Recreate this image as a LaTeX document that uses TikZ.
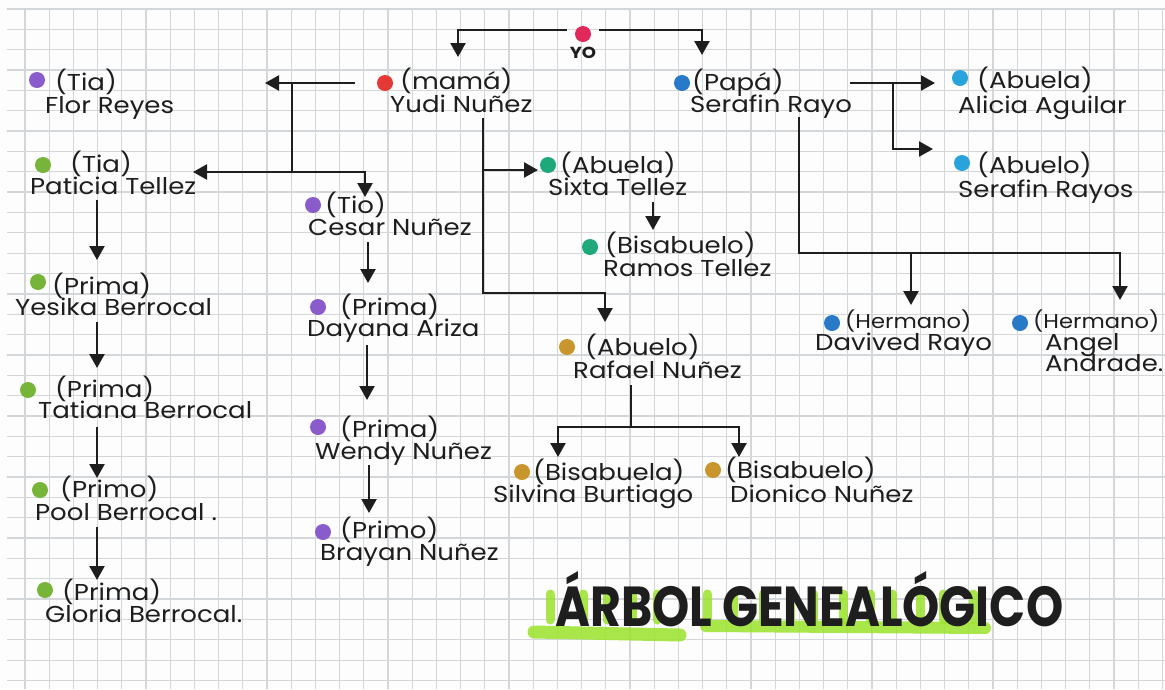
\documentclass[tikz,border=0pt]{standalone}
\usepackage{fontspec}
\setmainfont{Poppins}[FakeStretch=1.13]
\newfontfamily\titlefont{Poppins}
\usetikzlibrary{arrows.meta}
\definecolor{ink}{HTML}{1E1E1E}
\definecolor{paper}{HTML}{FDFDFD}
\definecolor{gridc}{HTML}{D4D7DA}
\definecolor{cYo}{HTML}{E0285A}
\definecolor{cRed}{HTML}{E53935}
\definecolor{cBlue}{HTML}{2979C9}
\definecolor{cCyan}{HTML}{29A3DC}
\definecolor{cPurple}{HTML}{8A5CCB}
\definecolor{cGreen}{HTML}{76B43A}
\definecolor{cTeal}{HTML}{1FA97A}
\definecolor{cGold}{HTML}{C9962E}
\definecolor{hlgreen}{HTML}{9BE22A}
\begin{document}
\begin{tikzpicture}[x=1pt,y=-1pt,
  txt/.style={font=\fontsize{23}{25}\selectfont, text=ink, inner sep=0pt, anchor=base west},
  txtn/.style={font=\fontsize{20}{22}\selectfont, text=ink, inner sep=0pt, anchor=base west},
  pdot/.style={circle, inner sep=0pt, minimum size=16pt, fill=#1},
  arr/.style={draw=ink, line width=2.4pt, -{Triangle[width=15pt,length=14pt]}},
  ln/.style={draw=ink, line width=2.4pt},
  gridline/.style={draw=gridc, line width=1.3pt},
  hl/.style={draw=hlgreen, line cap=round, opacity=0.85}]
\useasboundingbox (0,0) rectangle (1165,689);
\fill[paper] (0,0) rectangle (1165,689);
% grid
\foreach \i in {-1,...,32} \draw[gridline] (7,29.3+20.35*\i) -- (1165,29.3+20.35*\i);
\foreach \k in {0,...,47} \draw[gridline] (25+24.2*\k,9) -- (25+24.2*\k,689);

% ---------- persons ----------
\node[pdot=cYo] (d-yo) at (583,34) {};
\node[font=\fontsize{16}{18}\selectfont\bfseries, text=ink, inner sep=0pt] (yo) at (583,53) {YO};

\node[pdot=cRed] (d-mama) at (385,83) {};
\node[txt] (r-mama) at (400,89) {(mamá)};
\node[txt] (mama) at (390,112) {Yudi Nuñez};

\node[pdot=cBlue] (d-papa) at (682,83) {};
\node[txt] (r-papa) at (692,90) {(Papá)};
\node[txt] (papa) at (690,112) {Serafin Rayo};

\node[pdot=cCyan] (d-alicia) at (960,78) {};
\node[txt] (r-alicia) at (977,88) {(Abuela)};
\node[txt] (alicia) at (958,113) {Alicia Aguilar};

\node[pdot=cCyan] (d-serafin) at (962,163) {};
\node[txt] (r-serafin) at (977,173) {(Abuelo)};
\node[txt] (serafin) at (958,197) {Serafin Rayos};

\node[pdot=cPurple] (d-flor) at (37,80) {};
\node[txt] (r-flor) at (55,90) {(Tia)};
\node[txt] (flor) at (45,113) {Flor Reyes};

\node[pdot=cGreen] (d-paticia) at (43,165) {};
\node[txt] (r-paticia) at (70,172) {(Tia)};
\node[txt] (paticia) at (30,194) {Paticia Tellez};

\node[pdot=cGreen] (d-yesika) at (38,282) {};
\node[txt] (r-yesika) at (52,294) {(Prima)};
\node[txt] (yesika) at (15,315) {Yesika Berrocal};

\node[pdot=cGreen] (d-tatiana) at (28,390) {};
\node[txt] (r-tatiana) at (55,397) {(Prima)};
\node[txt] (tatiana) at (38,418) {Tatiana Berrocal};

\node[pdot=cGreen] (d-pool) at (40,490) {};
\node[txt] (r-pool) at (60,497) {(Primo)};
\node[txt] (pool) at (35,520) {Pool Berrocal .};

\node[pdot=cGreen] (d-gloria) at (45,590) {};
\node[txt] (r-gloria) at (62,600) {(Prima)};
\node[txt] (gloria) at (45,622) {Gloria Berrocal.};

\node[pdot=cPurple] (d-cesar) at (313,205) {};
\node[txt] (r-cesar) at (325,213) {(Tio)};
\node[txt] (cesar) at (308,235) {Cesar Nuñez};

\node[pdot=cPurple] (d-dayana) at (318,307) {};
\node[txt] (r-dayana) at (340,315) {(Prima)};
\node[txt] (dayana) at (307,336) {Dayana Ariza};

\node[pdot=cPurple] (d-wendy) at (318,427) {};
\node[txt] (r-wendy) at (340,437) {(Prima)};
\node[txt] (wendy) at (315,459) {Wendy Nuñez};

\node[pdot=cPurple] (d-brayan) at (323,532) {};
\node[txt] (r-brayan) at (340,538) {(Primo)};
\node[txt] (brayan) at (320,560) {Brayan Nuñez};

\node[pdot=cTeal] (d-sixta) at (548,165) {};
\node[txt] (r-sixta) at (560,173) {(Abuela)};
\node[txt] (sixta) at (548,195) {Sixta Tellez};

\node[pdot=cTeal] (d-ramos) at (590,247) {};
\node[txt] (r-ramos) at (605,253) {(Bisabuelo)};
\node[txt] (ramos) at (603,276) {Ramos Tellez};

\node[pdot=cGold] (d-rafael) at (567,347) {};
\node[txt] (r-rafael) at (585,355) {(Abuelo)};
\node[txt] (rafael) at (573,378) {Rafael Nuñez};

\node[pdot=cGold] (d-silvina) at (522,472) {};
\node[txt] (r-silvina) at (533,480) {(Bisabuela)};
\node[txt] (silvina) at (493,502) {Silvina Burtiago};

\node[pdot=cGold] (d-dionico) at (713,470) {};
\node[txt] (r-dionico) at (725,478) {(Bisabuelo)};
\node[txt] (dionico) at (730,502) {Dionico Nuñez};

\node[pdot=cBlue] (d-davived) at (832,323) {};
\node[txtn] (r-davived) at (845,328) {(Hermano)};
\node[txt] (davived) at (815,350) {Davived Rayo};

\node[pdot=cBlue] (d-angel) at (1020,323) {};
\node[txtn] (r-angel) at (1033,328) {(Hermano)};
\node[txt] (angel) at (1045,350) {Angel};
\node[txt] (angel2) at (1045,371) {Andrade.};

% ---------- connector points ----------
\coordinate (yoL) at (458,57);
\coordinate (yoR) at (702,55);
\coordinate (tFlor) at (265,83);
\coordinate (j1) at (292,83);
\coordinate (j2) at (292,172);
\coordinate (tPat) at (193,172);
\coordinate (tCes) at (365,197);
\coordinate (mTop) at (483,118);
\coordinate (mMid) at (483,170);
\coordinate (mBot) at (483,293);
\coordinate (tSix) at (538,170);
\coordinate (tRaf) at (605,322);
\coordinate (sA) at (653,202);
\coordinate (tRam) at (653,230);
\coordinate (pA) at (850,83);
\coordinate (pJ) at (893,83);
\coordinate (tAli) at (935,83);
\coordinate (tSer) at (933,149);
\coordinate (pTop) at (799,117);
\coordinate (pBot) at (799,253);
\coordinate (pJ2) at (911,253);
\coordinate (tDav) at (911,305);
\coordinate (tAng) at (1120,300);
\coordinate (a1) at (97,200); \coordinate (b1) at (97,260);
\coordinate (a2) at (97,322); \coordinate (b2) at (97,368);
\coordinate (a3) at (97,427); \coordinate (b3) at (97,478);
\coordinate (a4) at (97,527); \coordinate (b4) at (97,580);
\coordinate (c1) at (368,242); \coordinate (e1) at (368,283);
\coordinate (c2) at (367,345); \coordinate (e2) at (367,400);
\coordinate (c3) at (369,465); \coordinate (e3) at (369,513);
\coordinate (rA) at (631,385);
\coordinate (rJ) at (631,427);
\coordinate (tSil) at (558,457);
\coordinate (tDio) at (739,457);

% ---------- connectors ----------
\draw[arr, shorten <=8pt] ([yshift=4pt]d-yo.west) -| (yoL);
\draw[arr, shorten <=8pt] ([yshift=4pt]d-yo.east) -| (yoR);
\draw[arr, shorten <=22pt] (d-mama.west) -- (tFlor);
\draw[arr] (j1) -- (j2) -| (tCes);
\draw[arr] (j2) -- (tPat);
\draw[arr] (mTop) -- (mBot) -| (tRaf);
\draw[arr] (mMid) -- (tSix);
\draw[arr] (sA) -- (tRam);
\draw[arr] (pA) -- (tAli);
\draw[arr] (pJ) |- (tSer);
\draw[arr] (pTop) -- (pBot) -| (tAng);
\draw[arr] (pJ2) -- (tDav);
\draw[arr] (a1) -- (b1);
\draw[arr] (a2) -- (b2);
\draw[arr] (a3) -- (b3);
\draw[arr] (a4) -- (b4);
\draw[arr] (c1) -- (e1);
\draw[arr] (c2) -- (e2);
\draw[arr] (c3) -- (e3);
\draw[ln] (rA) -- (rJ);
\draw[arr] (rJ) -| (tSil);
\draw[arr] (rJ) -| (tDio);

% ---------- title ----------
\draw[hl, line width=13pt] (534,632) -- (680,635);
\draw[hl, line width=12pt] (706,626) -- (985,628);
\foreach \xx in {550,583,607,632,657,707,733,763,790,813,843,870,892,920,943,973}
  \draw[hl, line width=9pt] (\xx,594) -- (\xx,620);
\node[anchor=base west, inner sep=0pt, text=ink] (title) at (555,626)
  {\resizebox{508pt}{55pt}{\titlefont\bfseries ÁRBOL GENEALÓGICO}};
\end{tikzpicture}
\end{document}
